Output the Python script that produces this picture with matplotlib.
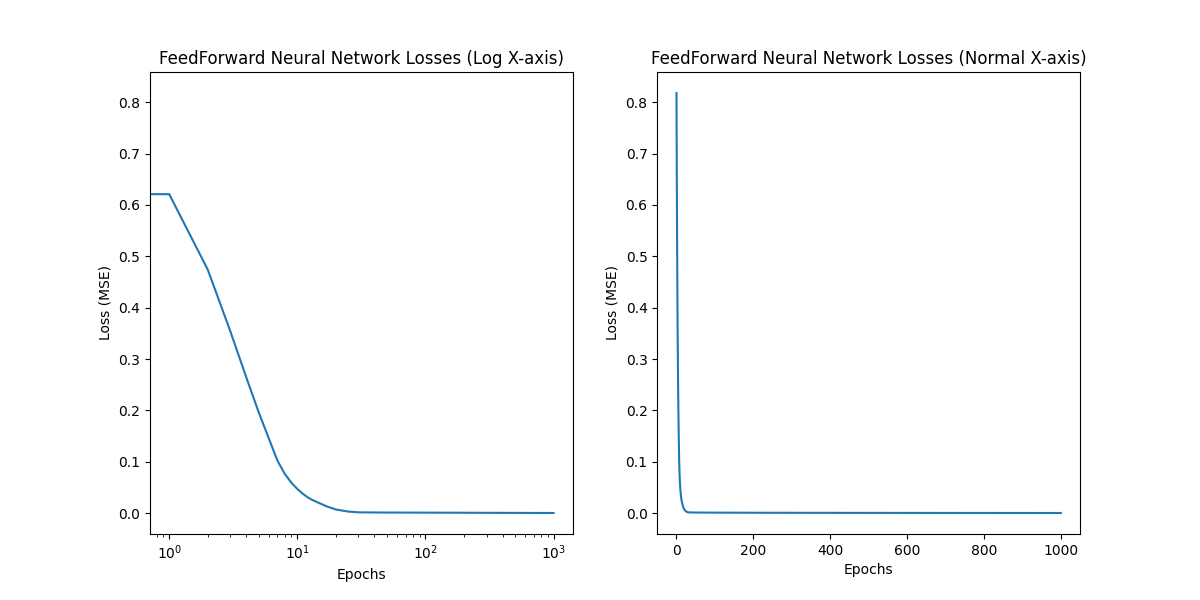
import matplotlib
matplotlib.use("Agg")
import matplotlib.pyplot as plt

# Loss values (sparse after the curve flattens)
epochs = [0, 1, 2, 3, 4, 5, 6, 7, 8, 9, 10, 11, 12, 13, 15, 17, 20, 25, 30,
          40, 50, 100, 200, 500, 1000]
losses = [0.818, 0.621, 0.474, 0.354, 0.264, 0.196, 0.145, 0.102, 0.076,
          0.059, 0.047, 0.038, 0.031, 0.026, 0.019, 0.013, 0.007, 0.003,
          0.0015, 0.0012, 0.0011, 0.0009, 0.0007, 0.0004, 0.0002]

fig, (ax1, ax2) = plt.subplots(1, 2, figsize=(12, 6), dpi=100)

# log x-axis (epoch 0 gets clipped, giving the flat start)
ax1.plot(epochs, losses)
ax1.set_xscale('log')
ax1.set_title('FeedForward Neural Network Losses (Log X-axis)')
ax1.set_xlabel('Epochs')
ax1.set_ylabel('Loss (MSE)')

# normal x-axis
ax2.plot(epochs, losses)
ax2.set_title('FeedForward Neural Network Losses (Normal X-axis)')
ax2.set_xlabel('Epochs')
ax2.set_ylabel('Loss (MSE)')

fig.savefig('out.png')
